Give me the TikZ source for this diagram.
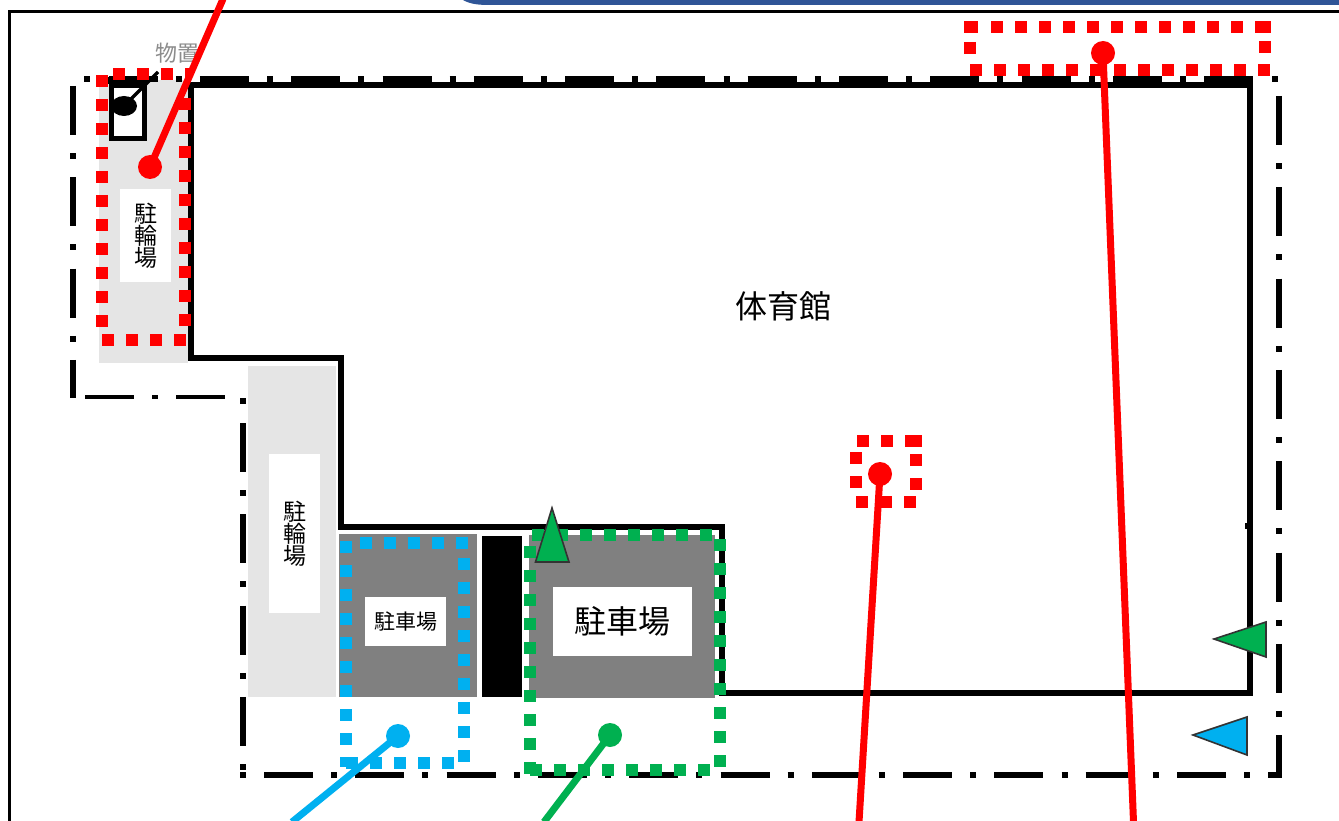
\documentclass[tikz,border=0pt]{standalone}
\usepackage{fontspec}
\setmainfont{Noto Sans CJK JP}
\definecolor{cred}{HTML}{FF0000}
\definecolor{cgreen}{HTML}{00B050}
\definecolor{cblue}{HTML}{00B0F0}
\definecolor{lightarea}{HTML}{E5E5E5}
\definecolor{darkarea}{HTML}{808080}
\definecolor{banner}{HTML}{2F5597}
\tikzset{
  x=1pt,y=-1pt,
  boundary/.style={line width=6pt,black,dash pattern=on 49pt off 18.15pt on 6pt off 18.15pt},
  wall/.style={line width=6pt,black,line join=miter},
  area/.style={fill=#1,draw=none},
  textlabel/.style={fill=white,draw=none,inner sep=0pt,align=center,font=\fontsize{#1}{#1}\selectfont},
  sqdots/.style={line width=12pt,draw=#1,dash pattern=on 12pt off 12pt},
  sqdot/.style={line width=12pt,draw=#1},
  callout/.style={circle,fill=#1,draw=none,minimum size=24pt,inner sep=0pt},
  leader/.style={line width=7pt,draw=#1},
  marker/.style={fill=#1,draw=black!80,line width=1.6pt,line join=miter},
}
\begin{document}
\begin{tikzpicture}
\useasboundingbox (0,0) rectangle (1339,821);
\fill[white] (0,0) rectangle (1339,821);
% top banner and frame
\fill[banner] (463,0) .. controls (470,4) and (478,5) .. (490,5) -- (1339,5) -- (1339,0) -- cycle;
\draw[line width=3pt,black] (9,821) -- (9,11.5) -- (1339,11.5);
% light areas
\fill[area=lightarea] (99,80) rectangle (188,363);
\fill[area=lightarea] (248,366) rectangle (336,697);
% dark areas
\fill[area=darkarea] (339,534) rectangle (477,697);
\fill[area=black] (482,536) rectangle (522,697);
\fill[area=darkarea] (529,535) rectangle (715,698);
% building outline
\draw[wall] (190.5,85.5) -- (1250,85.5) -- (1250,693) -- (722,693) -- (722,527) -- (341,527) -- (341,358) -- (190.5,358) -- cycle;
\draw[line width=3pt] (1246,523) -- (1246,529);
% site boundary
\draw[boundary] (108.6,79.5) -- (1253,79.5);
\draw[boundary] (1279,96) -- (1279,778);
\draw[boundary] (264,775) -- (1281.5,775);
\draw[boundary] (73,86) -- (73,398);
\draw[boundary,line width=4pt] (85,397) -- (226,397);
\draw[boundary] (243,423) -- (243,770);
\draw[line width=6pt] (84,79.5) -- (90,79.5);
\draw[line width=6pt] (1272,79.5) -- (1278,79.5);
\draw[line width=6pt] (240,401) -- (246,401);
\draw[line width=6pt] (240,775) -- (246,775);
% storage
\draw[line width=5pt,black,fill=white] (111,86) rectangle (144.5,139);
\fill[black] (108,77) rectangle (147,84);
\fill[black] (124,106) ellipse [x radius=13,y radius=10];
\draw[line width=3.5pt,black] (124,106) -- (158,72);
\node[text=black!45,font=\fontsize{22}{22}\selectfont,inner sep=0pt] (storage) at (177,53) {物置};
% labels
\node[textlabel=23,minimum width=51pt,minimum height=93pt] (bikeA) at (145.5,235.5) {駐\\[-1pt]輪\\[-1pt]場};
\node[textlabel=23,minimum width=51pt,minimum height=159pt] (bikeB) at (294.5,533.5) {駐\\[-1pt]輪\\[-1pt]場};
\node[textlabel=21,minimum width=81pt,minimum height=49pt] (carC) at (405.5,621.5) {駐車場};
\node[textlabel=32,minimum width=139pt,minimum height=69pt] (carD) at (622.5,621.5) {駐車場};
\node[font=\fontsize{32}{32}\selectfont,inner sep=0pt] (gym) at (783,306) {体育館};
% red box 1
\draw[sqdots=cred] (113,74) -- (190,74);
\draw[sqdots=cred] (184.5,98) -- (184.5,332);
\draw[sqdots=cred] (102,340) -- (190,340);
\draw[sqdots=cred] (102,75) -- (102,327);
% red box 2
\draw[sqdots=cred] (991,27) -- (1245,27);
\draw[sqdot=cred] (964,27) -- (978,27);
\draw[sqdot=cred] (1255,27) -- (1271,27);
\draw[sqdots=cred] (970,70) -- (1270,70);
\draw[sqdot=cred] (970,42) -- (970,54);
\draw[sqdot=cred] (1265,41) -- (1265,53);
% red box 3
\draw[sqdots=cred] (857,441) -- (893,441);
\draw[sqdot=cred] (905,441) -- (922,441);
\draw[sqdots=cred] (856,452) -- (856,488);
\draw[sqdots=cred] (916,454) -- (916,490);
\draw[sqdots=cred] (856,502) -- (916,502);
% blue box
\draw[sqdots=cblue] (360,543) -- (470,543);
\draw[sqdots=cblue] (346,541) -- (346,553);
\draw[sqdots=cblue] (346,565) -- (346,745);
\draw[sqdots=cblue] (464,558) -- (464,762);
\draw[sqdots=cblue] (346,757) -- (346,767);
\draw[sqdots=cblue] (346,763) -- (454,763);
% green box
\draw[sqdots=cgreen] (532,535) -- (712,535);
\draw[sqdots=cgreen] (530,546) -- (530,774);
\draw[sqdots=cgreen] (720,539) -- (720,768);
\draw[sqdots=cgreen] (530,770) -- (711,770);
% callouts
\node[callout=cred] (dotA) at (150,167) {};
\node[callout=cred] (dotB) at (1103,53) {};
\node[callout=cred] (dotC) at (880,474) {};
\node[callout=cblue] (dotD) at (398,736) {};
\node[callout=cgreen] (dotE) at (610,735) {};
\coordinate (endA) at (223,-1);
\coordinate (endB) at (1133.5,822);
\coordinate (endC) at (859,822);
\coordinate (endD) at (292,822);
\coordinate (endE) at (544,822);
\draw[leader=cred] (dotA.center) -- (endA);
\draw[leader=cred] (dotB.center) -- (endB);
\draw[leader=cred] (dotC.center) -- (endC);
\draw[leader=cblue] (dotD.center) -- (endD);
\draw[leader=cgreen] (dotE.center) -- (endE);
% view markers
\draw[marker=cgreen] (552,508) -- (569,562) -- (535.5,562) -- cycle;
\draw[marker=cgreen] (1214,639) -- (1266,622) -- (1266,657) -- cycle;
\draw[marker=cblue] (1193,735) -- (1247,717) -- (1247,755) -- cycle;
\end{tikzpicture}
\end{document}
